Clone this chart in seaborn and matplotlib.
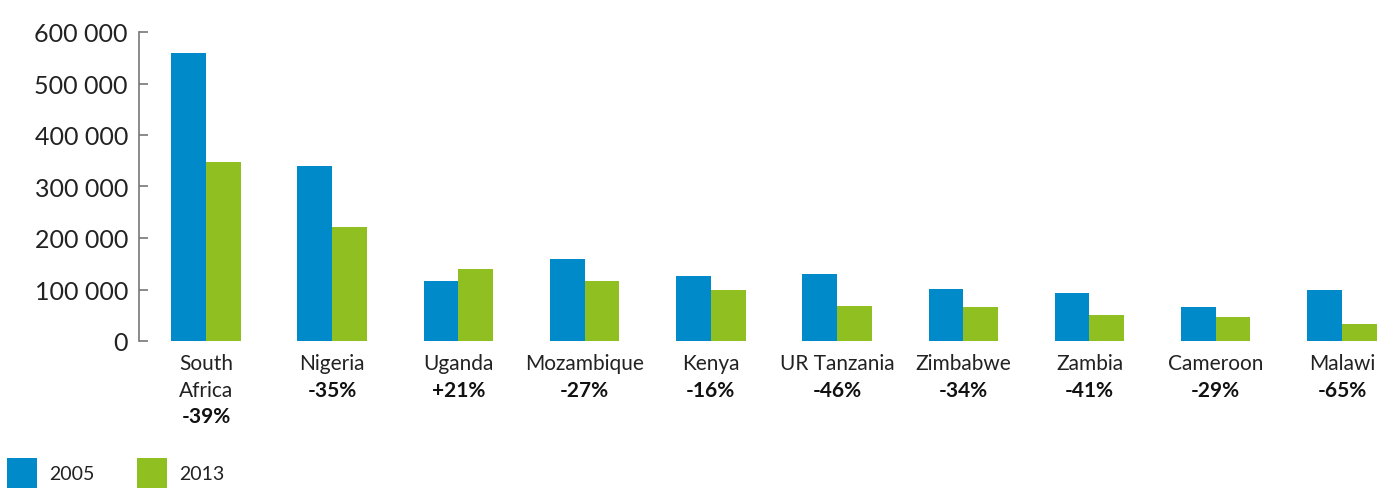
import pandas as pd
import matplotlib
matplotlib.use("Agg")
import matplotlib.pyplot as plt
from matplotlib.patches import Patch
from matplotlib.ticker import FuncFormatter
import seaborn as sns

# data
countries = ["South Africa", "Nigeria", "Uganda", "Mozambique", "Kenya",
             "UR Tanzania", "Zimbabwe", "Zambia", "Cameroon", "Malawi"]
labels = ["South\nAfrica", "Nigeria", "Uganda", "Mozambique", "Kenya",
          "UR Tanzania", "Zimbabwe", "Zambia", "Cameroon", "Malawi"]
changes = ["-39%", "-35%", "+21%", "-27%", "-16%",
           "-46%", "-34%", "-41%", "-29%", "-65%"]
values_2005 = [559000, 340000, 116000, 159000, 126000,
               130000, 101000, 93000, 66000, 99000]
values_2013 = [347000, 221000, 140000, 116000, 99000,
               68000, 66000, 50000, 46000, 33000]
years = ["2005", "2013"]
colors = ["#008aca", "#90bf22"]

df = pd.DataFrame({
    "country": countries * 2,
    "year": [years[0]] * len(countries) + [years[1]] * len(countries),
    "value": values_2005 + values_2013,
})

sns.set_style("ticks")
plt.rcParams["font.family"] = ["Lato", "DejaVu Sans"]

fig = plt.figure(figsize=(13.88, 4.89), dpi=100)
ax = fig.add_axes([139 / 1388, 1 - 342 / 489, (1388 - 139) / 1388, 309 / 489])

sns.barplot(data=df, x="country", y="value", hue="year", palette=colors,
            width=0.55, gap=0, legend=False, ax=ax, saturation=1,
            linewidth=0, edgecolor="none")

ax.set_ylim(0, 600000)
ax.set_xlim(-0.53, 9.365)
ax.set_yticks(range(0, 600001, 100000))
ax.yaxis.set_major_formatter(FuncFormatter(lambda v, p: f"{int(v):,}".replace(",", " ")))
ax.tick_params(axis="y", left=True, direction="in", length=6.5, width=1.2,
               color="#777777", labelsize=18, labelcolor="#222222", pad=8)
ax.set_xticks([])
ax.set_xlabel("")
ax.set_ylabel("")
for s in ["top", "right", "bottom"]:
    ax.spines[s].set_visible(False)
ax.spines["left"].set_color("#777777")
ax.spines["left"].set_linewidth(1.2)

for i, (lab, ch) in enumerate(zip(labels, changes)):
    ax.annotate(lab, xy=(i, 0), xycoords=("data", "axes fraction"),
                xytext=(0, -9), textcoords="offset points",
                ha="center", va="top", fontsize=15, color="#222222",
                linespacing=1.4)
    nlines = lab.count("\n") + 1
    ax.annotate(ch, xy=(i, 0), xycoords=("data", "axes fraction"),
                xytext=(0, -9 - 18.8 * nlines), textcoords="offset points",
                ha="center", va="top", fontsize=15, fontweight="bold",
                color="#111111")

handles = [Patch(facecolor=c, edgecolor="none") for c in colors]
fig.legend(handles, years, loc="upper left", bbox_to_anchor=(7 / 1388, 1 - 459 / 489),
           ncol=2, frameon=False, fontsize=14, borderpad=0, borderaxespad=0,
           handlelength=1.55, handleheight=2.0, handletextpad=0.6,
           columnspacing=2.2, labelcolor="#222222")

fig.savefig("out.png", dpi=100)
